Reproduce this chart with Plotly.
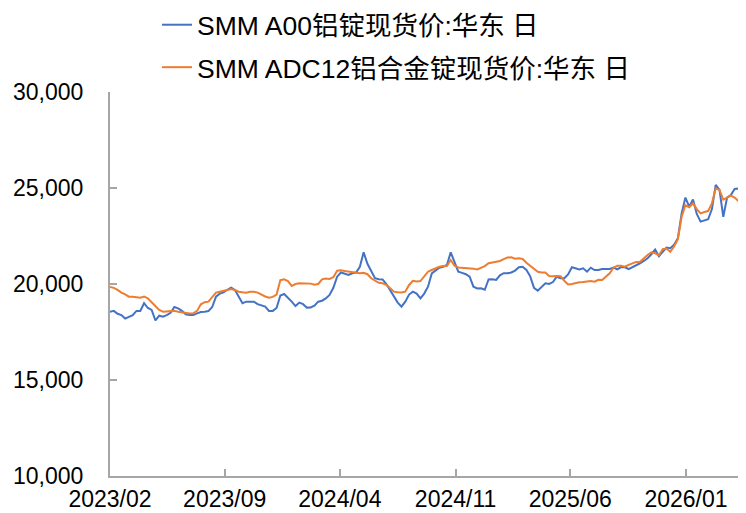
import pandas as pd
import plotly.graph_objects as go

# Weekly sample dates from 2023-02-01
dates = pd.date_range("2023-02-01", periods=169, freq="7D")

a00 = [18550, 18600, 18450, 18380, 18200, 18300, 18380, 18600, 18600, 19000,
       18750, 18650, 18100, 18350, 18300, 18380, 18500, 18800, 18730, 18600,
       18420, 18380, 18380, 18470, 18540, 18560, 18590, 18800, 19340, 19500,
       19570, 19700, 19810, 19690, 19340, 19000, 19080, 19080, 19080, 18950,
       18900, 18820, 18600, 18600, 18750, 19400, 19480, 19300, 19080, 18850,
       19030, 18950, 18770, 18780, 18870, 19080, 19130, 19250, 19430, 19800,
       20380, 20600, 20550, 20470, 20560, 20600, 20900, 21650, 21050, 20650,
       20300, 20250, 20240, 20000, 19690, 19400, 19030, 18820, 19080, 19450,
       19600, 19500, 19250, 19500, 19860, 20550, 20690, 20850, 20900, 20990,
       21650, 21100, 20640, 20580, 20510, 20380, 19860, 19770, 19780, 19700,
       20240, 20250, 20210, 20450, 20560, 20560, 20600, 20700, 20870, 20900,
       20730, 20400, 19800, 19650, 19860, 20040, 20000, 20100, 20380, 20300,
       20300, 20500, 20870, 20800, 20760, 20820, 20640, 20850, 20730, 20730,
       20780, 20780, 20780, 20850, 20760, 20880, 20870, 20780, 20870, 20980,
       21080, 21200, 21340, 21550, 21800, 21450, 21680, 21900, 21860, 22050,
       22380, 23680, 24500, 24030, 24400, 23650, 23250, 23300, 23370, 23900,
       25160, 24900, 23500, 24500, 24630, 24950, 24980, 24600, 24460]

adc12 = [19850, 19800, 19690, 19550, 19460, 19340, 19340, 19300, 19290, 19350,
         19250, 19050, 18820, 18650, 18560, 18570, 18590, 18600, 18560, 18520,
         18470, 18460, 18470, 18600, 18940, 19050, 19080, 19300, 19550, 19600,
         19650, 19720, 19740, 19690, 19600, 19570, 19550, 19600, 19600, 19550,
         19430, 19350, 19290, 19330, 19450, 20200, 20240, 20150, 19900, 20000,
         20040, 20040, 20040, 20020, 19960, 20000, 20240, 20280, 20260, 20350,
         20690, 20720, 20680, 20650, 20600, 20560, 20560, 20580, 20510, 20300,
         20170, 20060, 20040, 19950, 19780, 19600, 19570, 19560, 19600, 19950,
         20170, 20130, 20150, 20400, 20640, 20730, 20820, 20900, 20940, 20940,
         21250, 20950, 20860, 20850, 20830, 20800, 20800, 20760, 20850, 20930,
         21080, 21120, 21150, 21200, 21300, 21380, 21390, 21320, 21340, 21300,
         21110, 20950, 20770, 20640, 20600, 20600, 20420, 20400, 20420, 20400,
         20170, 19980, 20000, 20060, 20090, 20100, 20120, 20150, 20120, 20220,
         20210, 20400, 20560, 20850, 20950, 20950, 20900, 21000, 21080, 21150,
         21160, 21350, 21510, 21650, 21600, 21500, 21810, 21850, 21680, 21950,
         22330, 23500, 24100, 24000, 24200, 23900, 23680, 23750, 23800, 24200,
         24980, 24900, 24400, 24500, 24600, 24500, 24300, 24150, 23850]

names = ["SMM A00铝锭现货价:华东 日", "SMM ADC12铝合金锭现货价:华东 日"]
y_ticks = [10000, 15000, 20000, 25000, 30000]

FONT = "Liberation Sans, Arial, Noto Sans CJK SC, sans-serif"
AXIS = "#A6A6A6"

fig = go.Figure()
fig.add_trace(go.Scatter(x=dates, y=a00, mode="lines", name=names[0],
                         line=dict(color="#4472C4", width=2), legendgroup="a"))
fig.add_trace(go.Scatter(x=dates, y=adc12, mode="lines", name=names[1],
                         line=dict(color="#ED7D31", width=2), legendgroup="b"))

# The page body has an 8px default margin, so the figure is sized to fit the
# 746x513 window exactly from that offset.
fig.update_layout(
    width=738, height=505,
    margin=dict(l=102, r=0, t=84, b=37, autoexpand=False),
    paper_bgcolor="white", plot_bgcolor="white",
    font=dict(family=FONT, size=23, color="#000000"),
    showlegend=True,
    legend=dict(xref="container", yref="paper",
                x=0.2019, y=1.237, xanchor="left", yanchor="top",
                font=dict(size=26.5, family=FONT),
                traceorder="grouped", tracegroupgap=5,
                bgcolor="rgba(0,0,0,0)"),
    xaxis=dict(type="date", range=["2023-02-01", "2026-04-22"],
               tick0="2023-02-01", dtick="M7", tickformat="%Y/%m",
               automargin=False,
               showgrid=False, zeroline=False,
               showline=True, linecolor=AXIS, linewidth=2,
               ticks="inside", tickcolor=AXIS, tickwidth=2, ticklen=7,
               ticklabelstandoff=1,
               tickfont=dict(size=23)),
    yaxis=dict(range=[10000, 30000], tickvals=y_ticks,
               tickformat=",d", automargin=False,
               showgrid=False, zeroline=False,
               showline=True, linecolor=AXIS, linewidth=2,
               ticks="inside", tickcolor=AXIS, tickwidth=2, ticklen=7,
               ticklabelstandoff=20,
               tickfont=dict(size=23)),
)

fig.write_html("out.html")
